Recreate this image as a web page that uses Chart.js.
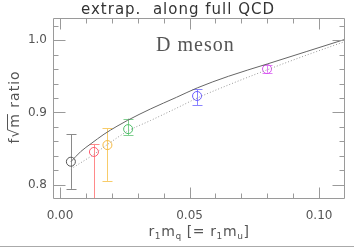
<!DOCTYPE html>
<html><head><meta charset="utf-8">
<script src="https://cdn.jsdelivr.net/npm/chart.js@4/dist/chart.umd.min.js"></script>
<style>html,body{margin:0;padding:0;background:#fff}#wrap{width:354px;height:248px}</style>
</head><body><div id="wrap"><canvas id="c" width="354" height="248"></canvas></div>
<script>
// data
const pointX = [0.0042, 0.0131, 0.0183, 0.0263, 0.0529, 0.0799];
const pointY = [0.832, 0.8455, 0.855, 0.877, 0.9228, 0.960];
const errHigh = [0.870, 0.8566, 0.878, 0.8915, 0.9324, 0.965];
const errLow = [0.7945, 0.75, 0.8055, 0.869, 0.9103, 0.955];
const pointColors = ['#555555', '#ff5a6e', '#f5b942', '#4fbf6a', '#6a5cff', '#d850f0'];
const barColors = ['#8a8a8a', '#ff8a8a', '#f8cc6a', '#7fd08f', '#8a84ff', '#e080f5'];
const solidX = [0.0042, 0.008, 0.012, 0.017, 0.022, 0.026, 0.035, 0.045, 0.053, 0.065, 0.080, 0.095, 0.110];
const solidY = [0.832, 0.846, 0.857, 0.870, 0.881, 0.889, 0.905, 0.921, 0.934, 0.950, 0.967, 0.984, 1.001];
const dotX = [0.0042, 0.013, 0.018, 0.026, 0.035, 0.045, 0.053, 0.065, 0.080, 0.095, 0.110];
const dotY = [0.822, 0.842, 0.855, 0.874, 0.889, 0.906, 0.920, 0.938, 0.959, 0.979, 0.998];
const xTicks = [0.00, 0.05, 0.10];
const xMinor = [0.01, 0.02, 0.03, 0.04, 0.06, 0.07, 0.08, 0.09];
const yTicks = [0.8, 0.9, 1.0];
const yMinor = [0.82, 0.84, 0.86, 0.88, 0.92, 0.94, 0.96, 0.98, 1.02];
const titleText = 'extrap.  along full QCD';
const labelText = 'D meson';

const GRAY = '#9a9a9a';
const TXT = '#555';

const decor = {
  id: 'decor',
  beforeDatasetsDraw(chart) {
    const ctx = chart.ctx, xs = chart.scales.x, ys = chart.scales.y, a = chart.chartArea;
    ctx.save();
    ctx.beginPath(); ctx.rect(a.left, a.top, a.right - a.left, a.bottom - a.top); ctx.clip();
    ctx.lineWidth = 1;
    pointX.forEach((xv, i) => {
      const px = Math.round(xs.getPixelForValue(xv)) + 0.5;
      const yh = ys.getPixelForValue(errHigh[i]), yl = ys.getPixelForValue(errLow[i]);
      ctx.strokeStyle = barColors[i];
      ctx.beginPath();
      ctx.moveTo(px, yh); ctx.lineTo(px, yl);
      ctx.moveTo(px - 5, Math.round(yh) + 0.5); ctx.lineTo(px + 5, Math.round(yh) + 0.5);
      ctx.moveTo(px - 5, Math.round(yl) + 0.5); ctx.lineTo(px + 5, Math.round(yl) + 0.5);
      ctx.stroke();
    });
    ctx.restore();
  },
  afterDraw(chart) {
    const ctx = chart.ctx, xs = chart.scales.x, ys = chart.scales.y, a = chart.chartArea;
    ctx.save();
    ctx.strokeStyle = GRAY; ctx.lineWidth = 1;
    ctx.beginPath();
    const L = Math.round(a.left) + 0.5, R = Math.round(a.right) - 0.5, T = Math.round(a.top) + 0.5, B = Math.round(a.bottom) - 0.5;
    ctx.rect(L, T, R - L, B - T);
    const tick = (vals, len) => {
      vals.forEach(v => {
        const px = Math.round(xs.getPixelForValue(v)) + 0.5;
        ctx.moveTo(px, B); ctx.lineTo(px, B - len);
        ctx.moveTo(px, T); ctx.lineTo(px, T + len);
      });
    };
    const tickY = (vals, len) => {
      vals.forEach(v => {
        const py = Math.round(ys.getPixelForValue(v)) + 0.5;
        ctx.moveTo(L, py); ctx.lineTo(L + len, py);
        ctx.moveTo(R, py); ctx.lineTo(R - len, py);
      });
    };
    tick(xTicks, 11); tick(xMinor, 5);
    tickY(yTicks, 12); tickY(yMinor, 5);
    ctx.stroke();
    // bottom border line
    ctx.strokeStyle = '#aaa';
    ctx.beginPath(); ctx.moveTo(0, 246.5); ctx.lineTo(354, 246.5); ctx.stroke();
    // title
    ctx.fillStyle = '#333';
    ctx.font = '15px "DejaVu Sans"';
    ctx.textAlign = 'center'; ctx.textBaseline = 'alphabetic';
    ctx.letterSpacing = '1px';
    ctx.fillText(titleText, 178, 14);
    // panel label
    ctx.letterSpacing = '1px';
    ctx.fillStyle = '#555';
    ctx.font = '20px "Liberation Serif"';
    ctx.textAlign = 'left';
    ctx.fillText(labelText, 156, 51);
    // x axis title with subscripts
    ctx.letterSpacing = '0.6px';
    ctx.fillStyle = TXT;
    const parts = [['r', 0], ['1', 1], ['m', 0], ['q', 1], [' [= ', 0], ['r', 0], ['1', 1], ['m', 0], ['u', 1], [']', 0]];
    const big = '14px "DejaVu Sans"', small = '9px "DejaVu Sans"';
    let w = 0;
    parts.forEach(p => { ctx.font = p[1] ? small : big; w += ctx.measureText(p[0]).width; });
    let x = 199 - w / 2; const base = 236;
    parts.forEach(p => {
      ctx.font = p[1] ? small : big;
      ctx.fillText(p[0], x, p[1] ? base + 3 : base);
      x += ctx.measureText(p[0]).width;
    });
    // y axis title
    ctx.translate(15, 107); ctx.rotate(-Math.PI / 2);
    ctx.textAlign = 'center'; ctx.textBaseline = 'middle';
    ctx.font = '14px "DejaVu Sans"';
    ctx.letterSpacing = '1px';
    ctx.fillText('f\u221Am ratio', 0, 0);
    // overline of the radical
    const wAll = ctx.measureText('f\u221Am ratio').width;
    const wF = ctx.measureText('f\u221A').width, wM = ctx.measureText('m').width;
    ctx.strokeStyle = TXT; ctx.beginPath();
    ctx.moveTo(-wAll / 2 + wF - 2, -7.5); ctx.lineTo(-wAll / 2 + wF + wM - 1, -7.5); ctx.stroke();
    ctx.restore();
  }
};

new Chart(document.getElementById('c'), {
  type: 'scatter',
  data: {
    datasets: [
      { type: 'line', data: solidX.map((x, i) => ({ x, y: solidY[i] })), borderColor: '#666', borderWidth: 1, pointRadius: 0, cubicInterpolationMode: 'monotone', fill: false },
      { type: 'line', data: dotX.map((x, i) => ({ x, y: dotY[i] })), borderColor: '#999', borderWidth: 1, borderDash: [1, 2], pointRadius: 0, cubicInterpolationMode: 'monotone', fill: false },
      { data: pointX.map((x, i) => ({ x, y: pointY[i] })), pointRadius: 4.5, pointBorderWidth: 1, pointBorderColor: pointColors, pointBackgroundColor: 'rgba(0,0,0,0)' }
    ]
  },
  options: {
    responsive: false, animation: false, devicePixelRatio: 1,
    layout: { padding: { top: 18, right: 9, left: 0, bottom: 0 } },
    plugins: { legend: { display: false }, tooltip: { enabled: false }, title: { display: false } },
    scales: {
      x: {
        type: 'linear', min: -0.0027, max: 0.110,
        afterBuildTicks: s => { s.ticks = xTicks.map(v => ({ value: v })); },
        afterFit: s => { s.height = 49; },
        grid: { display: false, drawTicks: false }, border: { display: false },
        ticks: { padding: 10, color: TXT, font: { family: 'DejaVu Sans', size: 12 }, callback: v => v.toFixed(2), maxRotation: 0 }
      },
      y: {
        type: 'linear', min: 0.7805, max: 1.0305,
        afterBuildTicks: s => { s.ticks = yTicks.map(v => ({ value: v })); },
        afterFit: s => { s.width = 53; },
        grid: { display: false, drawTicks: false }, border: { display: false },
        ticks: { padding: 6, color: TXT, font: { family: 'DejaVu Sans', size: 12 }, callback: v => v.toFixed(1) }
      }
    }
  },
  plugins: [decor]
});
</script></body></html>
